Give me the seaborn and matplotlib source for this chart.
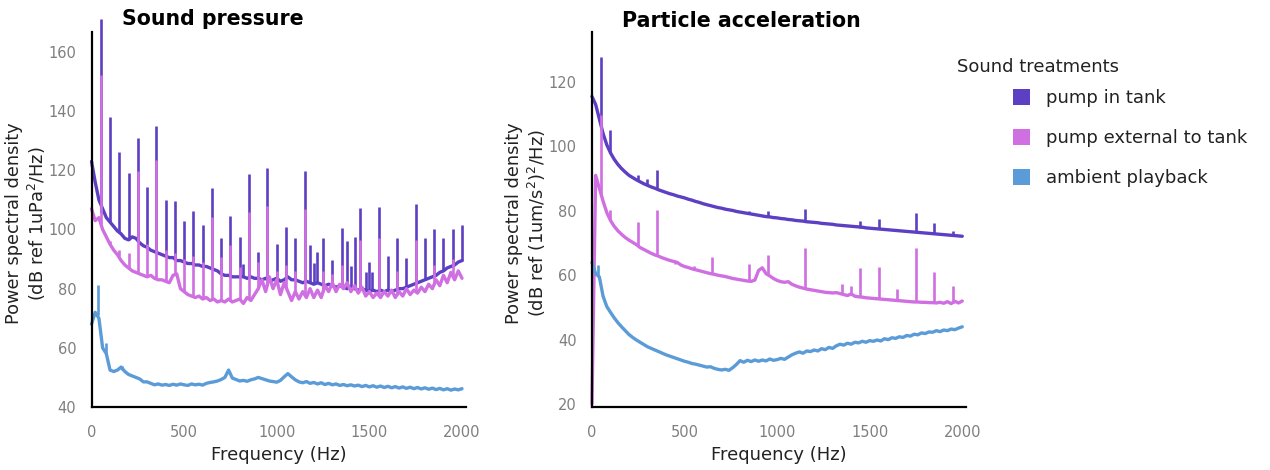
import numpy as np
import pandas as pd
import matplotlib
matplotlib.use("Agg")
import matplotlib.pyplot as plt
from matplotlib.patches import Patch
import seaborn as sns

# ---------------- data ----------------
freq = np.arange(0, 2001, 20)

series_names = ["pump in tank", "pump external to tank", "ambient playback"]
colors = ["#5d3fc3", "#cf6fe2", "#5b9bd8"]

# Sound pressure (dB ref 1uPa^2/Hz)
sp_pump_in = [123, 116, 110, 107, 104, 102.5, 101, 99.5, 98.5, 97,
              96.5, 97.5, 97, 95.5, 94.5, 94, 93, 92.5, 92, 91.5,
              91, 90.5, 90.5, 89.5, 89.5, 89, 88.5, 88.5, 88, 88,
              87.5, 87.5, 87, 86.5, 86, 85, 84.5, 84.5, 84, 84,
              84, 84, 83.5, 84, 83.5, 83.5, 83, 83.5, 82.5, 83,
              83.5, 82.5, 83, 84, 83, 83, 82.5, 82, 82.5, 82,
              81.5, 82, 81.5, 81, 81.5, 81, 80.5, 81, 80.5, 80,
              80.5, 80, 79.5, 80, 79.5, 79, 79.5, 79, 79.5, 79,
              79.5, 79, 79.5, 80, 80, 80.5, 81, 81.5, 82, 82.5,
              83, 83.5, 84, 84.5, 85.5, 86, 87, 87.5, 88, 89,
              89.5]
sp_pump_ext = [107, 103, 104, 100, 97.5, 95, 93, 91.5, 89.5, 88,
               87, 86, 85.5, 85, 84.5, 84, 84.5, 83.5, 83, 83,
               82.5, 82, 84.5, 85, 80, 79, 78, 77.5, 77, 77.5,
               76.5, 77, 76, 76.5, 75.5, 76, 75.5, 76.5, 75.5, 76,
               76.5, 75, 77, 76, 78, 80, 83, 79, 84, 80,
               83, 78, 82, 79, 76, 79, 76.5, 79, 77, 80,
               77, 79.5, 77, 81, 79, 82, 79, 81.5, 80, 82,
               79, 81, 78.5, 80.5, 77.5, 79, 77, 78.5, 77, 79,
               77.5, 79.5, 77, 79, 77.5, 80, 78, 79.5, 78.5, 80.5,
               79, 81.5, 80, 83, 81, 84.5, 82, 85.5, 83, 86,
               83.5]
sp_ambient = [68, 72, 70, 60, 58, 52.5, 52, 52.5, 53.5, 52,
              51, 50.5, 50, 49.5, 48.5, 48.5, 48, 47.5, 47.8, 47.4,
              47.6, 47.3, 47.7, 47.4, 47.8, 47.5, 47.3, 47.8, 47.5, 47.7,
              47.4, 48, 48.3, 48.5, 48.8, 49.3, 50, 52.5, 49.8, 49.3,
              48.8, 49, 48.7, 49.2, 49.5, 50, 49.6, 49.2, 48.8, 48.6,
              48.4, 49, 50.2, 51.3, 50.2, 49.2, 48.5, 48.2, 48.6, 48,
              48.3, 47.8, 48.2, 47.6, 48, 47.5, 47.8, 47.3, 47.6, 47.2,
              47.5, 47.1, 47.4, 46.9, 47.3, 46.8, 47.2, 46.7, 47.1, 46.6,
              47, 46.5, 46.9, 46.4, 46.8, 46.3, 46.7, 46.2, 46.6, 46.1,
              46.5, 46, 46.4, 45.9, 46.3, 45.8, 46.2, 45.7, 46.1, 45.8,
              46.2]

# narrow tonal peaks (frequency, top, foot)
sp_in_peak_f = [50, 100, 150, 200, 250, 300, 350, 400, 450, 500,
                550, 600, 650, 700, 750, 800, 820, 850, 900, 950,
                1000, 1050, 1100, 1150, 1180, 1200, 1215, 1250, 1300, 1350,
                1380, 1400, 1420, 1450, 1480, 1500, 1515, 1550, 1600, 1650,
                1700, 1750, 1800, 1850, 1900, 1950, 2000]
sp_in_peak_top = [171, 138.1, 126.3, 119, 131, 114.5, 135, 110, 109.7, 103,
                  106.4, 101.5, 113.9, 97, 104.4, 97.4, 88.3, 118.8, 92.3, 120.7,
                  95, 100.7, 97.2, 119.8, 94.8, 88.7, 92.5, 97.2, 89.7, 100.4,
                  96.2, 87.7, 97.4, 107.2, 85.7, 89.1, 85.7, 107.7, 91.2, 97,
                  90.2, 108.6, 97.2, 100, 97.2, 100, 101.5]
sp_in_peak_foot = [105.5, 102.5, 99, 96.5, 96, 94, 92, 91, 90.5, 89,
                   88.5, 87.5, 86.8, 85, 84.5, 84, 84, 84, 83.5, 83.3,
                   83.3, 83.5, 83, 82.3, 82, 81.8, 81.8, 81.3, 81, 80.8,
                   80.2, 80.3, 80, 79.8, 79.5, 79, 79.4, 79.2, 79.5, 79.8,
                   80.5, 81.7, 83, 84.3, 86, 87.8, 89.5]
sp_ext_peak_f = [50, 100, 150, 200, 250, 300, 350, 400, 450, 500,
                 550, 600, 650, 700, 750, 800, 850, 900, 950, 1000,
                 1050, 1100, 1150, 1250, 1300, 1350, 1450, 1550, 1650, 1750,
                 1850, 1950]
sp_ext_peak_top = [152.2, 96, 93, 92, 119.6, 95, 123.5, 93, 92, 90,
                   91, 89, 104.3, 90.8, 94.8, 87.4, 106, 89.1, 108, 86,
                   88, 86, 107, 86, 85, 88, 96.5, 97, 86, 96.5,
                   88, 90]
sp_ext_peak_foot = [102, 95, 91, 87, 85.2, 84, 83.3, 82.5, 84.7, 79,
                    77.2, 76.5, 76.2, 76, 76, 76.5, 76.5, 80, 81, 83,
                    80, 79, 78, 79, 82, 80.5, 79.5, 77.8, 78, 79,
                    81.5, 84]
sp_amb_peak_f = [36, 77, 165]
sp_amb_peak_top = [81.2, 61.5, 54]
sp_amb_peak_foot = [71, 58, 52.5]

# Particle acceleration (dB ref (1um/s^2)^2/Hz)
pa_pump_in = [115.5, 113, 108.5, 104, 100.5, 98, 96, 94.4, 93.1, 92,
              91, 90.3, 89.6, 89, 88.4, 87.9, 87.4, 87, 86.5, 86.1,
              85.7, 85.3, 85, 84.6, 84.3, 84, 83.6, 83.3, 82.9, 82.6,
              82.2, 81.9, 81.6, 81.3, 81, 80.8, 80.5, 80.3, 80.1, 79.8,
              79.6, 79.4, 79.2, 79, 78.8, 78.6, 78.4, 78.2, 78.1, 77.9,
              77.8, 77.6, 77.5, 77.3, 77.2, 77, 76.9, 76.8, 76.6, 76.5,
              76.4, 76.3, 76.1, 76, 75.9, 75.8, 75.6, 75.5, 75.4, 75.3,
              75.2, 75.1, 75, 74.9, 74.7, 74.6, 74.5, 74.4, 74.3, 74.2,
              74.1, 74, 73.9, 73.8, 73.7, 73.6, 73.5, 73.4, 73.3, 73.2,
              73.1, 73, 72.9, 72.8, 72.7, 72.6, 72.5, 72.4, 72.3, 72.2,
              72.1]
pa_pump_ext = [20, 91, 87, 83, 79.5, 77, 75.2, 73.8, 72.7, 71.7,
               70.9, 70.2, 69.5, 68.6, 68, 67.4, 66.8, 66.3, 65.9, 65.4,
               65, 64.6, 64.3, 64, 63.2, 62.7, 62.4, 62, 61.7, 61.4,
               61.1, 60.8, 60.5, 60.3, 60, 59.8, 59.6, 59.3, 59, 58.8,
               58.6, 58.4, 58.2, 58.1, 58.5, 61.5, 62.3, 60.5, 59.8, 59,
               58.4, 58, 57.8, 58, 57.2, 56.7, 56.3, 56, 55.7, 55.5,
               55.3, 55.1, 54.9, 54.7, 54.6, 54.5, 54.6, 54.3, 54, 53.7,
               54.2, 53.5, 53.3, 53.2, 53, 52.9, 52.8, 52.7, 52.6, 52.5,
               52.4, 52.3, 52.2, 52.1, 52, 51.9, 51.8, 51.7, 51.7, 51.6,
               51.6, 51.5, 51.5, 51.4, 51.6, 51.3, 51.8, 51.2, 51.9, 51.4,
               52]
pa_ambient = [64, 60.5, 59.5, 53.5, 50.3, 48.5, 46.8, 45.3, 44, 42.8,
              41.6, 40.7, 39.9, 39.2, 38.5, 37.8, 37.3, 36.8, 36.3, 35.8,
              35.3, 34.9, 34.5, 34.1, 33.7, 33.3, 33, 32.6, 32.4, 32.1,
              31.8, 31.5, 31.6, 31.1, 30.8, 30.6, 30.8, 30.5, 31.3, 32.3,
              33.5, 33, 33.6, 33.2, 33.7, 33.3, 33.7, 33.4, 34, 33.6,
              33.8, 34.2, 33.9, 34.6, 35.3, 35.8, 36.2, 35.8, 36.5, 36.3,
              36.8, 36.5, 37.2, 36.9, 37.6, 37.3, 38.1, 38.6, 38.3, 38.9,
              38.6, 39.2, 39, 39.5, 39.2, 39.7, 39.5, 39.9, 39.6, 40.3,
              40, 40.6, 40.4, 40.9, 40.7, 41.3, 41.1, 41.7, 41.5, 42.1,
              41.9, 42.4, 42.3, 42.8, 42.5, 43, 42.8, 43.3, 43.1, 43.6,
              44]

pa_in_peak_f = [50, 100, 250, 300, 350, 700, 850, 950, 1150, 1450, 1550, 1650, 1750, 1850, 1950]
pa_in_peak_top = [127.8, 105, 91, 89.8, 92.6, 81.2, 80, 80, 80.7, 76.8, 77.6, 74.5, 79.2, 76.3, 73.8]
pa_in_peak_foot = [106, 98, 89.3, 87.9, 86.7, 80.8, 79.1, 78.3, 76.7, 74.8, 74.3, 73.9, 73.4, 72.9, 72.4]
pa_ext_peak_f = [50, 100, 250, 350, 450, 550, 650, 850, 950, 1150, 1350, 1400, 1450, 1550, 1650, 1750, 1850, 1950]
pa_ext_peak_top = [109.7, 80.2, 76.6, 80.4, 64.2, 62.9, 65.7, 63.6, 66.2, 68.5, 57.4, 56.7, 62.1, 62.6, 55.6, 68.3, 61, 56.6]
pa_ext_peak_foot = [85, 77, 69.2, 66.1, 63.6, 61.9, 60.4, 58.2, 60, 55.8, 54.4, 54.2, 53.2, 52.7, 52.1, 51.7, 51.5, 51.5]
pa_amb_peak_f = [33]
pa_amb_peak_top = [63.3]
pa_amb_peak_foot = [59.5]

x_ticks = [0, 500, 1000, 1500, 2000]
sp_yticks = [40, 60, 80, 100, 120, 140, 160]
pa_yticks = [20, 40, 60, 80, 100, 120]

# ---------------- style ----------------
sns.set_theme(style="white")
plt.rcParams["font.family"] = ["DejaVu Sans"]

fig = plt.figure(figsize=(12.7, 4.7), dpi=100)
ax1 = fig.add_axes([0.07205, 0.134, 0.29465, 0.831])
ax2 = fig.add_axes([0.4661, 0.134, 0.2945, 0.798])

tick_font = ["Liberation Sans Narrow", "DejaVu Sans"]
tick_color = "#7f7f7f"


def draw_panel(ax, lines, peaks):
    for (vals, col), (pf, pt, pb) in zip(lines, peaks):
        df = pd.DataFrame({"Frequency": freq, "PSD": vals})
        sns.lineplot(data=df, x="Frequency", y="PSD", ax=ax, color=col,
                     linewidth=2.4, estimator=None, sort=False, clip_on=False)
        ax.vlines(pf, pb, pt, colors=col, linewidth=1.9, clip_on=False)


draw_panel(ax1,
           [(sp_pump_in, colors[0]), (sp_pump_ext, colors[1]), (sp_ambient, colors[2])],
           [(sp_in_peak_f, sp_in_peak_top, sp_in_peak_foot),
            (sp_ext_peak_f, sp_ext_peak_top, sp_ext_peak_foot),
            (sp_amb_peak_f, sp_amb_peak_top, sp_amb_peak_foot)])
draw_panel(ax2,
           [(pa_pump_in, colors[0]), (pa_pump_ext, colors[1]), (pa_ambient, colors[2])],
           [(pa_in_peak_f, pa_in_peak_top, pa_in_peak_foot),
            (pa_ext_peak_f, pa_ext_peak_top, pa_ext_peak_foot),
            (pa_amb_peak_f, pa_amb_peak_top, pa_amb_peak_foot)])

ax1.set_xlim(0, 2020)
ax1.set_ylim(40, 172)
ax1.spines["left"].set_bounds(40, 166.7)
ax2.set_xlim(0, 2020)
ax2.set_ylim(19.1, 135.5)

for ax, yt in ((ax1, sp_yticks), (ax2, pa_yticks)):
    sns.despine(ax=ax)
    for s in ("left", "bottom"):
        ax.spines[s].set_color("black")
        ax.spines[s].set_linewidth(1.6)
    ax.set_xticks(x_ticks)
    ax.set_yticks(yt)
    ax.tick_params(axis="both", length=0, colors=tick_color, labelsize=10.5)
    ax.tick_params(axis="x", pad=13)
    ax.tick_params(axis="y", pad=11)
    for lab in ax.get_xticklabels() + ax.get_yticklabels():
        lab.set_family(tick_font)
    ax.set_xlabel("Frequency (Hz)", fontsize=13, color="#222222", labelpad=4)
    ax.grid(False)

ax1.set_ylabel("Power spectral density\n(dB ref 1uPa$^2$/Hz)", fontsize=12.8,
               color="#222222", linespacing=1.15)
ax1.yaxis.set_label_coords(-0.116, 0.47)
ax2.set_ylabel("Power spectral density\n(dB ref (1um/s$^2$)$^2$/Hz)", fontsize=12.8,
               color="#222222", linespacing=1.15)
ax2.yaxis.set_label_coords(-0.117, 0.49)

fig.text(213 / 1270, 1 - 25 / 470, "Sound pressure", fontsize=14.8,
         fontweight="bold", ha="center", va="baseline", color="black")
fig.text(741 / 1270, 1 - 27 / 470, "Particle acceleration", fontsize=14.8,
         fontweight="bold", ha="center", va="baseline", color="black")

fig.text(957 / 1270, 1 - 67 / 470, "Sound treatments", fontsize=13,
         ha="left", va="center", color="#222222")
handles = [Patch(facecolor=c, edgecolor="none", label=n) for c, n in zip(colors, series_names)]
fig.legend(handles=handles, loc="upper left", bbox_to_anchor=(1013 / 1270, 1 - 89 / 470),
           frameon=False, fontsize=13, handlelength=0.95, handleheight=0.95,
           handletextpad=0.85, labelspacing=1.22, borderpad=0, borderaxespad=0,
           labelcolor="#222222")

fig.savefig("out.png", dpi=100, facecolor="white")
